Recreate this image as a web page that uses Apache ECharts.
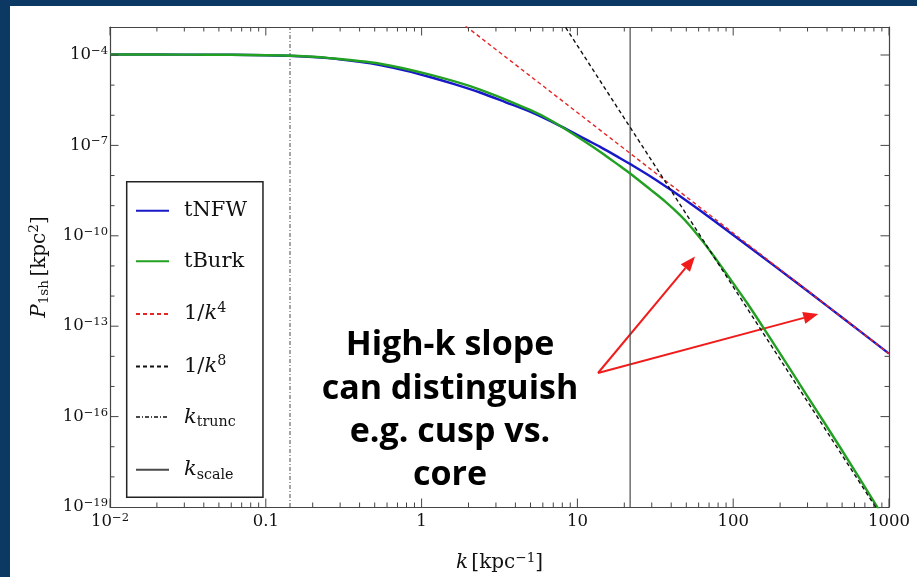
<!DOCTYPE html>
<html><head><meta charset="utf-8">
<script src="https://cdn.jsdelivr.net/npm/echarts@6/dist/echarts.min.js"></script>
<style>
html,body{margin:0;padding:0;background:#0b3963;width:917px;height:577px;overflow:hidden}
#main{position:absolute;left:10px;top:6px;width:907px;height:571px;background:#fff}
</style></head><body><div id="main"></div>
<script>
// ---------------- data ----------------
const kNFW = [0.01,0.03,0.06,0.1,0.15,0.25,0.4,0.541,0.8,1.13,1.6,2.37,3.5,4.97,7.73,11.5,14,18.8,21.8,30,39.3,52.8,75,100,150,232,400,650,1000];
const pNFW = [1.04e-4,1.03e-4,1.015e-4,9.85e-5,9.3e-5,7.9e-5,5.94e-5,4.65e-5,2.99e-5,1.86e-5,1.1e-5,5.7e-6,2.65e-6,1.31e-6,4.45e-7,1.52e-7,8.95e-8,3.77e-8,2.41e-8,8.8e-9,3.48e-9,1.2e-9,3.23e-10,1.07e-10,2.23e-11,4.05e-12,4.74e-13,6.87e-14,1.23e-14];
const kBurk = [0.01,0.03,0.06,0.1,0.15,0.25,0.541,1.13,2.37,4.97,7.0,11.46,13.97,18.76,21.8,29.3,36.5,45.6,52.9,64.3,74.2,86.3,102.6,121.9,144.1,172.2,199.6,296,484,813,1000];
const pBurk = [1.04e-4,1.03e-4,1.015e-4,9.85e-5,9.4e-5,8.0e-5,5.14e-5,2.22e-5,7.16e-6,1.5e-6,6.1e-7,1.23e-7,6.18e-8,2.06e-8,1.17e-8,3.49e-9,1.39e-9,4.85e-10,2.13e-10,6.17e-11,2.3e-11,7.78e-12,2.22e-12,6.25e-13,1.7e-13,4.11e-14,1.26e-14,5.2e-16,9.8e-18,1.32e-19,2.2e-20];
const kInvK4 = [1.5, 1000];
const pInvK4 = [2.43e-3, 1.23e-14];
const kInvK8 = [6, 1000];
const pInvK8 = [1.214e-2, 2.04e-20];
const kTrunc = 0.143;
const kScale = 21.8;
const kRange = [0.01, 1000];
const pRange = [1e-19, 8.5e-4];
const xTickValues = [0.01, 0.1, 1, 10, 100, 1000];
const xTickLabels = ['10^-2', '0.1', '1', '10', '100', '1000'];
const yTickValues = [1e-19, 1e-16, 1e-13, 1e-10, 1e-7, 1e-4];
const yTickLabels = ['10^-19', '10^-16', '10^-13', '10^-10', '10^-7', '10^-4'];
const seriesNames = ['tNFW', 'tBurk', '1/k^4', '1/k^8', 'k_trunc', 'k_scale'];
const noteLines = ['High-k slope', 'can distinguish', 'e.g. cusp vs.', 'core'];

// ---------------- helpers ----------------
const L = Math.log10;
const X0 = L(kRange[0]), X1 = L(kRange[1]);
const Y0 = L(pRange[0]), Y1 = L(pRange[1]);
const pairs = (ks, ps) => ks.map((k, i) => [L(k), L(ps[i])]);
const SERIF = '"DejaVu Serif", "Liberation Serif", serif';
const INK = '#111';
const FRAME = '#444';

function toRich(lbl) {
  const m = lbl.match(/^(\d+)\^(-?\d+)$/);
  if (!m) return '{b|' + lbl + '}';
  return '{b|' + m[1] + '}{s|' + m[2].replace('-', '\u2212') + '}';
}
const tickRich = {
  b: {fontFamily: SERIF, fontSize: 16.5, lineHeight: 20, color: INK},
  s: {fontFamily: SERIF, fontSize: 11.5, lineHeight: 10, verticalAlign: 'top', color: INK}
};
function makeRich(fs) {
  const lh = Math.round(fs * 1.2);
  return {
    r: {fontFamily: SERIF, fontSize: fs, lineHeight: lh, color: INK},
    i: {fontFamily: SERIF, fontStyle: 'italic', fontSize: fs, lineHeight: lh, color: INK},
    sup: {fontFamily: SERIF, fontSize: fs * 0.68, lineHeight: 14, verticalAlign: 'top', color: INK},
    sub: {fontFamily: SERIF, fontSize: fs * 0.68, lineHeight: 12, verticalAlign: 'bottom', color: INK}
  };
}
const nameRich = makeRich(20);
const legendRich = makeRich(21);
const legendText = {
  'tNFW': '{r|tNFW}',
  'tBurk': '{r|tBurk}',
  '1/k^4': '{r|1/}{i|k}{sup|4}',
  '1/k^8': '{r|1/}{i|k}{sup|8}',
  'k_trunc': '{i|k}{sub|trunc}',
  'k_scale': '{i|k}{sub|scale}'
};

// tick marks (Mathematica-style frame ticks, inside, on all four sides)
const tickData = [];
for (let d = Math.round(X0); d <= Math.round(X1); d++) {
  tickData.push([d, Y0, 0, 8.5]);
  if (d < X1) for (let m = 2; m <= 9; m++) tickData.push([d + L(m), Y0, 0, 4.5]);
}
const yMajor = yTickValues.map(v => Math.round(L(v)));
for (let e = Math.round(Y0) + 1; e <= Math.floor(Y1); e++) {
  tickData.push([X0, e, 1, yMajor.includes(e) ? 8.5 : 4.5]);
}

function tickItem(params, api) {
  const orient = api.value(2), len = api.value(3);
  const st = {stroke: FRAME, lineWidth: 1};
  if (orient === 0) {
    const v = api.value(0);
    const b = api.coord([v, Y0]), t = api.coord([v, Y1]);
    return {type: 'group', children: [
      {type: 'line', shape: {x1: b[0], y1: b[1], x2: b[0], y2: b[1] - len}, style: st},
      {type: 'line', shape: {x1: t[0], y1: t[1], x2: t[0], y2: t[1] + len}, style: st}
    ]};
  }
  const v = api.value(1);
  const l = api.coord([X0, v]), r = api.coord([X1, v]);
  return {type: 'group', children: [
    {type: 'line', shape: {x1: l[0], y1: l[1], x2: l[0] + len, y2: l[1]}, style: st},
    {type: 'line', shape: {x1: r[0], y1: r[1], x2: r[0] - len, y2: r[1]}, style: st}
  ]};
}

// arrows (page coordinates minus panel offset)
const OX = 10, OY = 6;
function arrow(x0, y0, x1, y1) {
  x0 -= OX; x1 -= OX; y0 -= OY; y1 -= OY;
  const dx = x1 - x0, dy = y1 - y0, len = Math.hypot(dx, dy);
  const ux = dx / len, uy = dy / len, hl = 15, hw = 6;
  const bx = x1 - ux * hl, by = y1 - uy * hl;
  return [
    {type: 'line', silent: true, shape: {x1: x0, y1: y0, x2: bx, y2: by}, style: {stroke: '#f01c1c', lineWidth: 2}},
    {type: 'polygon', silent: true, shape: {points: [[x1, y1], [bx - uy * hw, by + ux * hw], [bx + uy * hw, by - ux * hw]]}, style: {fill: '#f01c1c'}}
  ];
}

const axisBase = {
  type: 'value',
  axisLine: {show: true, onZero: false, lineStyle: {color: FRAME, width: 1.2}},
  axisTick: {show: false}, splitLine: {show: false}
};

const chart = echarts.init(document.getElementById('main'), null, {renderer: 'canvas'});
chart.setOption({
  animation: false,
  backgroundColor: '#fff',
  grid: {left: 100, right: 28, top: 21, bottom: 70, outerBoundsMode: 'none', containLabel: false},
  xAxis: [
    Object.assign({}, axisBase, {
      position: 'bottom', min: X0, max: X1, interval: 1,
      axisLabel: {margin: 5, formatter: v => {
        const i = xTickValues.findIndex(t => Math.abs(L(t) - v) < 1e-6);
        return i < 0 ? '' : toRich(xTickLabels[i]);
      }, rich: tickRich},
      name: '{i|k} {r|[kpc}{sup|\u22121}{r|]}', nameLocation: 'middle', nameGap: 44,
      nameTextStyle: {rich: nameRich}
    }),
    Object.assign({}, axisBase, {position: 'top', min: X0, max: X1, interval: 1, axisLabel: {show: false}})
  ],
  yAxis: [
    Object.assign({}, axisBase, {
      position: 'left', min: Y0, max: Y1, interval: 1,
      axisLabel: {margin: 2, formatter: v => {
        const i = yTickValues.findIndex(t => Math.abs(L(t) - v) < 1e-6);
        return i < 0 ? '' : toRich(yTickLabels[i]);
      }, rich: tickRich},
      name: '{i|P}{sub|1sh} {r|[kpc}{sup|2}{r|]}', nameLocation: 'middle', nameGap: 57, nameRotate: 90,
      nameTextStyle: {rich: nameRich}
    }),
    Object.assign({}, axisBase, {position: 'right', min: Y0, max: Y1, interval: 1, axisLabel: {show: false}})
  ],
  legend: {
    data: seriesNames,
    orient: 'vertical', left: 116.7, top: 175.7,
    padding: [18.5, 16, 15, 8.3],
    itemGap: 29.6, itemWidth: 33, itemHeight: 14,
    backgroundColor: '#fff', borderColor: '#222', borderWidth: 1.5, borderRadius: 0,
    selectedMode: false,
    itemStyle: {opacity: 0},
    formatter: name => legendText[name],
    textStyle: {padding: [0, 0, 0, 10], rich: legendRich}
  },
  series: [
    {name: 'k_trunc', type: 'line', data: [[L(kTrunc), Y0], [L(kTrunc), Y1]], symbol: 'none', z: 1,
     lineStyle: {color: '#4a4a4a', width: 1, type: [4, 2, 1, 2]}},
    {name: 'k_scale', type: 'line', data: [[L(kScale), Y0], [L(kScale), Y1]], symbol: 'none', z: 1,
     lineStyle: {color: '#4a4a4a', width: 1.2}},
    {name: 'tNFW', type: 'line', data: pairs(kNFW, pNFW), symbol: 'none', smooth: 0.3, z: 3,
     lineStyle: {color: '#1818c8', width: 2.4}},
    {name: 'tBurk', type: 'line', data: pairs(kBurk, pBurk), symbol: 'none', smooth: 0.3, z: 3,
     lineStyle: {color: '#22a022', width: 2.4}},
    {name: '1/k^4', type: 'line', data: pairs(kInvK4, pInvK4), symbol: 'none', z: 4,
     lineStyle: {color: '#e62525', width: 1.4, type: [4, 3]}},
    {name: '1/k^8', type: 'line', data: pairs(kInvK8, pInvK8), symbol: 'none', z: 4,
     lineStyle: {color: '#111', width: 1.4, type: [4, 3]}},
    {type: 'custom', coordinateSystem: 'cartesian2d', silent: true, clip: false, z: 5,
     data: tickData, encode: {x: 0, y: 1}, renderItem: tickItem}
  ],
  graphic: [
    {type: 'text', silent: true, x: 450 - OX, y: 324 - OY, z: 10,
     style: {text: noteLines.join('\n'), fill: '#000', fontFamily: '"Open Sans", sans-serif', fontWeight: 'bold',
             fontSize: 34, lineHeight: 43.3, align: 'center', verticalAlign: 'top'}},
    ...arrow(598, 373, 695, 256.5),
    ...arrow(598, 373, 818.3, 314)
  ]
});
</script></body></html>
